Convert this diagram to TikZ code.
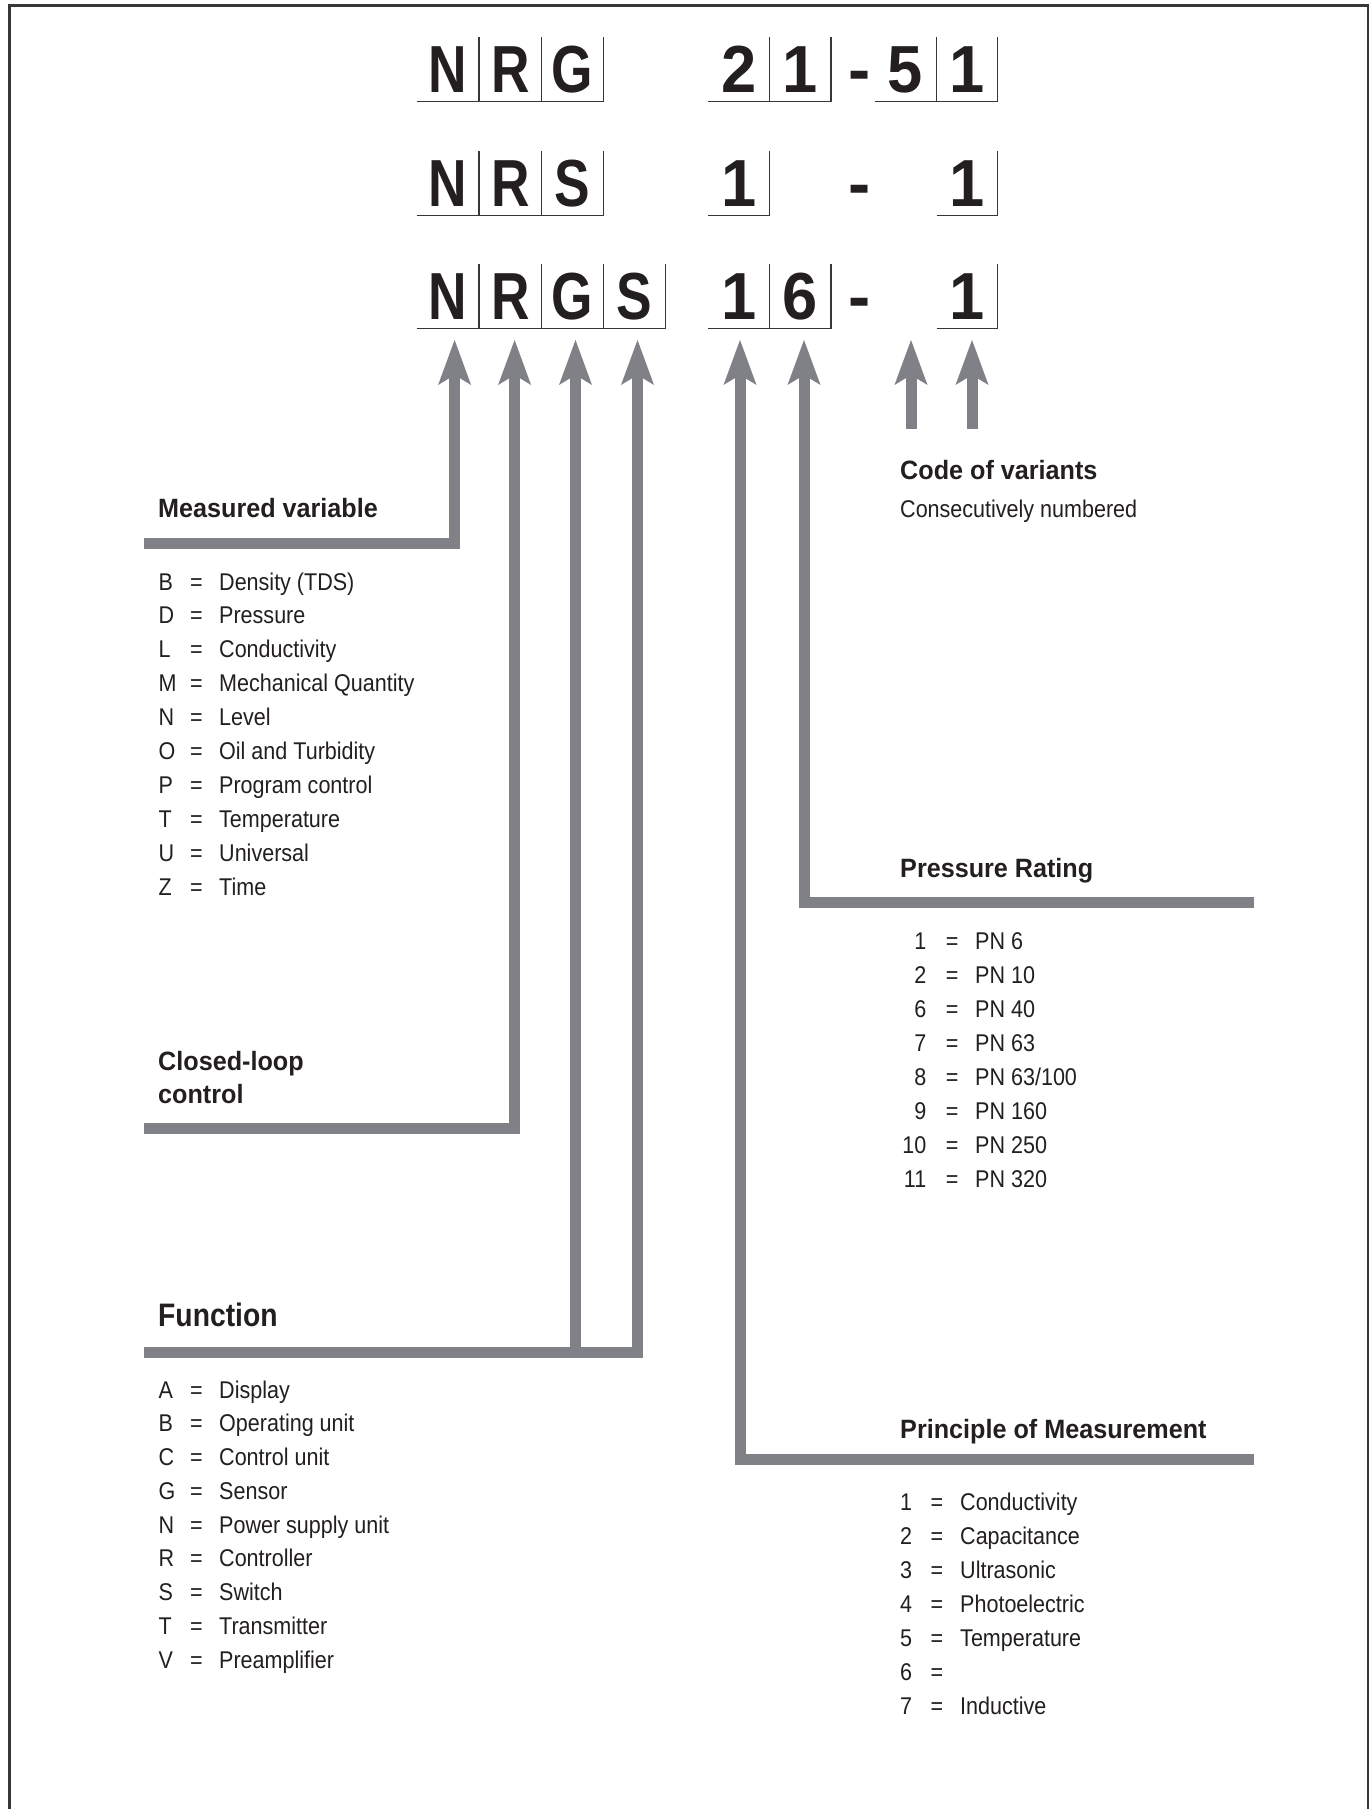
\documentclass[tikz,border=0pt]{standalone}
\usepackage{fontspec}
\setmainfont{Liberation Sans}[FakeStretch=0.89]
\newfontfamily\headfont{Liberation Sans}[FakeStretch=0.95]
\newfontfamily\funcfont{Liberation Sans}[FakeStretch=0.87]
\newfontfamily\letterfont{Liberation Sans}[FakeStretch=0.8]
\newfontfamily\digitfont{Liberation Sans}[FakeStretch=0.95]
\newfontfamily\dashfont{Liberation Sans}
\usetikzlibrary{arrows.meta}
\definecolor{bargray}{RGB}{128,129,134}
\definecolor{framegray}{RGB}{55,55,57}
\definecolor{inkc}{RGB}{35,31,32}
\tikzset{
  frameline/.style={draw=framegray, line width=2.5pt, line join=miter},
  bar/.style={draw=bargray, line width=11pt, line join=miter, line cap=butt},
  arr/.style={bar, -{Stealth[length=45pt, width=33pt, inset=10pt, line width=0pt, fill=bargray]}},
  cellline/.style={draw=framegray, line width=1.4pt, line join=miter},
  bigletter/.style={inner sep=0, text=inkc, font=\letterfont\bfseries\fontsize{66.6}{70}\selectfont},
  bigdigit/.style={inner sep=0, text=inkc, font=\digitfont\bfseries\fontsize{66.6}{70}\selectfont},
  bigdash/.style={inner sep=0, anchor=base, text=inkc, font=\dashfont\bfseries\fontsize{66.6}{70}\selectfont},
  head/.style={inner sep=0, anchor=base west, text=inkc, font=\headfont\bfseries\fontsize{26.5}{30}\selectfont},
  funchead/.style={inner sep=0, anchor=base west, text=inkc, font=\funcfont\bfseries\fontsize{32.5}{36}\selectfont},
  listtext/.style={inner sep=0, text=inkc, font=\fontsize{24.2}{30}\selectfont}
}
\newcommand\codecell[6]{%
  \draw[cellline] (#2,#4) -- (#3,#4) -- (#3,{#4-64.5});
  \node[#5, anchor=base] (#1) at ({(#2+#3)/2},{#4-9}) {#6};}
\begin{document}
\begin{tikzpicture}[x=1pt,y=-1pt]
\useasboundingbox (0,0) rectangle (1372,1809);
\fill[white] (0,0) rectangle (1372,1809);
\draw[frameline] (9.7,1809) -- (9.7,5.7) -- (1368,5.7) -- (1368,1809);

% ---- row 1: NRG 21-51
\codecell{aN}{416.6}{479}{101.7}{bigletter}{N}
\codecell{aR}{479}{541.6}{101.7}{bigletter}{R}
\codecell{aG}{541.6}{603.6}{101.7}{bigletter}{G}
\codecell{a2}{707.6}{769.7}{101.7}{bigdigit}{2}
\codecell{a1}{769.7}{831}{101.7}{bigdigit}{1}
\node[bigdash] (adash) at (859.5,92.7) {-};
\codecell{a5}{874.5}{936.6}{101.7}{bigdigit}{5}
\codecell{a1b}{936.6}{997.3}{101.7}{bigdigit}{1}
% ---- row 2: NRS 1-1
\codecell{bN}{416.6}{479}{215.3}{bigletter}{N}
\codecell{bR}{479}{541.6}{215.3}{bigletter}{R}
\codecell{bS}{541.6}{603.6}{215.3}{bigletter}{S}
\codecell{b1}{707.6}{769.7}{215.3}{bigdigit}{1}
\node[bigdash] (bdash) at (859.5,206.3) {-};
\codecell{b1b}{936.6}{997.3}{215.3}{bigdigit}{1}
% ---- row 3: NRGS 16-1
\codecell{cN}{416.6}{479}{328.3}{bigletter}{N}
\codecell{cR}{479}{541.6}{328.3}{bigletter}{R}
\codecell{cG}{541.6}{603.6}{328.3}{bigletter}{G}
\codecell{cS}{603.6}{665.5}{328.3}{bigletter}{S}
\codecell{c1}{707.6}{769.7}{328.3}{bigdigit}{1}
\codecell{c6}{769.7}{831}{328.3}{bigdigit}{6}
\node[bigdash] (cdash) at (859.5,319.3) {-};
\codecell{c1b}{936.6}{997.3}{328.3}{bigdigit}{1}

% ---- arrow tips
\coordinate (tN) at (454.6,340);
\coordinate (tR) at (514.6,340);
\coordinate (tG) at (575.5,340);
\coordinate (tS) at (637.5,340);
\coordinate (tP) at (740,340);
\coordinate (tD) at (804,340);
\coordinate (tV1) at (911,340);
\coordinate (tV2) at (972,340);

% ---- connector bends
\coordinate (mvL) at (144,543.5);   \coordinate (mvC) at (454.6,543.5);
\coordinate (clL) at (144,1128.5);  \coordinate (clC) at (514.6,1128.5);
\coordinate (fnL) at (144,1352.5);  \coordinate (fnC) at (637.5,1352.5);
\coordinate (fnJ) at (575.5,1358);
\coordinate (prR) at (1254,902);    \coordinate (prC) at (804,902);
\coordinate (pmR) at (1254,1459.5); \coordinate (pmC) at (740,1459.5);
\coordinate (cv1) at (911,429);     \coordinate (cv2) at (972,429);

\draw[arr] (mvL) -- (mvC) -- (tN);
\draw[arr] (clL) -- (clC) -- (tR);
\draw[arr] (fnJ) -- (tG);
\draw[arr] (fnL) -- (fnC) -- (tS);
\draw[arr] (pmR) -- (pmC) -- (tP);
\draw[arr] (prR) -- (prC) -- (tD);
\draw[arr] (cv1) -- (tV1);
\draw[arr] (cv2) -- (tV2);

% ---- headings
\node[head] (hmv) at (158,517.3) {Measured variable};
\node[head] (hcl1) at (158,1070) {Closed-loop};
\node[head] (hcl2) at (158,1103.3) {control};
\node[funchead] (hfn) at (158,1326) {Function};
\node[head] (hcv) at (900,479.3) {Code of variants};
\node[listtext, anchor=base west] (hcvt) at (900,517.3) {Consecutively numbered};
\node[head] (hpr) at (900,877) {Pressure Rating};
\node[head] (hpm) at (900,1438) {Principle of Measurement};

% ---- lists
\foreach \k/\v [count=\i from 0] in {B/Density (TDS), D/Pressure, L/Conductivity, M/Mechanical Quantity, N/Level, O/Oil and Turbidity, P/Program control, T/Temperature, U/Universal, Z/Time}{
  \node[listtext, anchor=base west] (mvk\i) at (158.5,{590+33.9*\i}) {\k};
  \node[listtext, anchor=base west] (mve\i) at (190,{590+33.9*\i}) {=};
  \node[listtext, anchor=base west] (mvv\i) at (219,{590+33.9*\i}) {\v};
}
\foreach \k/\v [count=\i from 0] in {A/Display, B/Operating unit, C/Control unit, G/Sensor, N/Power supply unit, R/Controller, S/Switch, T/Transmitter, V/Preamplifier}{
  \node[listtext, anchor=base west] (fnk\i) at (158.5,{1398+33.75*\i}) {\k};
  \node[listtext, anchor=base west] (fne\i) at (190,{1398+33.75*\i}) {=};
  \node[listtext, anchor=base west] (fnv\i) at (219,{1398+33.75*\i}) {\v};
}
\foreach \k/\v [count=\i from 0] in {1/PN 6, 2/PN 10, 6/PN 40, 7/PN 63, 8/{PN 63/100}, 9/PN 160, 10/PN 250, 11/PN 320}{
  \node[listtext, anchor=base east] (prk\i) at (926.5,{949.3+33.96*\i}) {\k};
  \node[listtext, anchor=base west] (pre\i) at (945.7,{949.3+33.96*\i}) {=};
  \node[listtext, anchor=base west] (prv\i) at (975,{949.3+33.96*\i}) {\v};
}
\foreach \k/\v [count=\i from 0] in {1/Conductivity, 2/Capacitance, 3/Ultrasonic, 4/Photoelectric, 5/Temperature, 6/{}, 7/Inductive}{
  \node[listtext, anchor=base west] (pmk\i) at (900,{1510+34*\i}) {\k};
  \node[listtext, anchor=base west] (pme\i) at (930.5,{1510+34*\i}) {=};
  \node[listtext, anchor=base west] (pmv\i) at (960,{1510+34*\i}) {\v};
}
\end{tikzpicture}
\end{document}
